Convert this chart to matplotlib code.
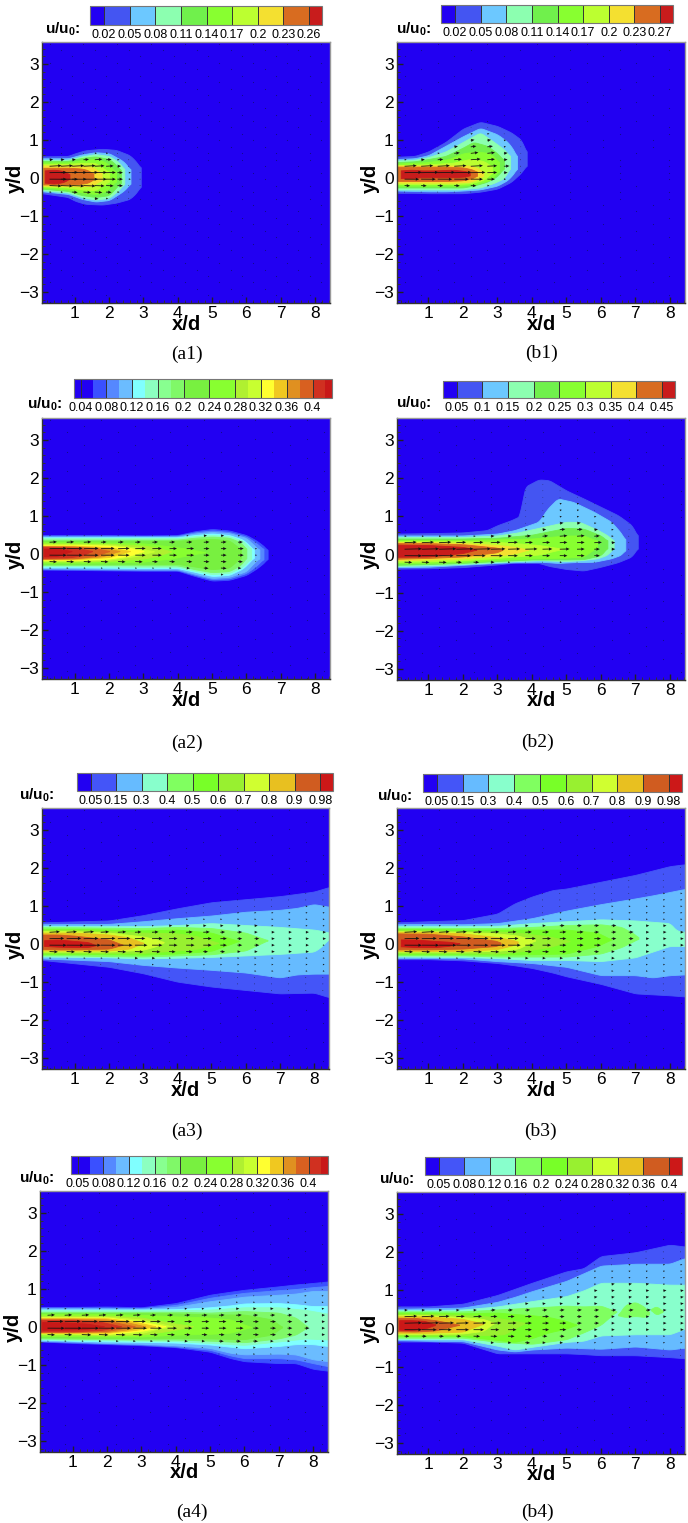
import numpy as np
import matplotlib
matplotlib.use("Agg")
import matplotlib.pyplot as plt
from matplotlib.cm import ScalarMappable
from matplotlib.colors import ListedColormap, BoundaryNorm

plt.rcParams['font.family'] = ['Liberation Sans', 'DejaVu Sans']
plt.rcParams['mathtext.fontset'] = 'custom'
plt.rcParams['mathtext.bf'] = 'Liberation Sans:bold'

W, H = 688, 1523

# colour ramps of the legend bars
COLORS_10 = ['#2200f2', '#4455f2', '#6cc8ff', '#8cffb0', '#70f04c', '#88ff30', '#bcff30', '#f4e030', '#d86c20', '#c81c1c']
COLORS_11 = ['#2200f2', '#4455f8', '#66bbff', '#88ffcc', '#80ff60', '#78ff28', '#98f030', '#d0ff30', '#e8c020', '#d05c20', '#cc1818']
COLORS_21 = ['#2200f2', '#2200f2', '#3a50ff', '#5588ff', '#6bbcff', '#80ffff', '#8cffc0', '#88ff90', '#80f868', '#78f040', '#78f040',
             '#88ff30', '#88ff30', '#b0f030', '#c8ff30', '#ffff30', '#f0c820', '#e09020', '#d86020', '#d03020', '#c81818']

# legend levels and labels
A1_LEVELS = [0.02, 0.05, 0.08, 0.11, 0.14, 0.17, 0.2, 0.23, 0.26]
A1_LABELS = ['0.02', '0.05', '0.08', '0.11', '0.14', '0.17', '0.2', '0.23', '0.26']
B1_LEVELS = [0.02, 0.05, 0.08, 0.11, 0.14, 0.17, 0.2, 0.23, 0.27]
B1_LABELS = ['0.02', '0.05', '0.08', '0.11', '0.14', '0.17', '0.2', '0.23', '0.27']
A2_LEVELS = [0.04, 0.06, 0.08, 0.1, 0.12, 0.14, 0.16, 0.18, 0.2, 0.22, 0.24, 0.26, 0.28, 0.3, 0.32, 0.34, 0.36, 0.38, 0.4, 0.42]
A2_LABELS = ['0.04', '0.08', '0.12', '0.16', '0.2', '0.24', '0.28', '0.32', '0.36', '0.4']
B2_LEVELS = [0.05, 0.1, 0.15, 0.2, 0.25, 0.3, 0.35, 0.4, 0.45]
B2_LABELS = ['0.05', '0.1', '0.15', '0.2', '0.25', '0.3', '0.35', '0.4', '0.45']
U3_LEVELS = [0.05, 0.15, 0.3, 0.4, 0.5, 0.6, 0.7, 0.8, 0.9, 0.98]
U3_LABELS = ['0.05', '0.15', '0.3', '0.4', '0.5', '0.6', '0.7', '0.8', '0.9', '0.98']
A4_LEVELS = [0.05, 0.065, 0.08, 0.1, 0.12, 0.14, 0.16, 0.18, 0.2, 0.22, 0.24, 0.26, 0.28, 0.3, 0.32, 0.34, 0.36, 0.38, 0.4, 0.42]
A4_LABELS = ['0.05', '0.08', '0.12', '0.16', '0.2', '0.24', '0.28', '0.32', '0.36', '0.4']
B4_LEVELS = [0.05, 0.08, 0.12, 0.16, 0.2, 0.24, 0.28, 0.32, 0.36, 0.4]
B4_LABELS = ['0.05', '0.08', '0.12', '0.16', '0.2', '0.24', '0.28', '0.32', '0.36', '0.4']

# contour outlines: (band, x/d, upper y/d, lower y/d)
A1_BANDS = [
    (1, [.04, .8, 1, 1.3, 1.8, 2.2, 2.6, 2.8, 2.92], [.57, .58, .65, .73, .77, .74, .6, .42, .25], [-.4, -.5, -.6, -.68, -.7, -.65, -.55, -.38, -.2]),
    (2, [.04, .8, 1.2, 1.6, 2, 2.4, 2.55, 2.62], [.52, .52, .62, .68, .65, .45, .3, .2], [-.35, -.42, -.55, -.62, -.58, -.35, -.22, -.12]),
    (3, [.04, .8, 1.2, 1.6, 2, 2.3, 2.45], [.48, .48, .57, .63, .58, .4, .2], [-.32, -.38, -.5, -.57, -.52, -.3, -.12]),
    (4, [.04, .8, 1.2, 1.6, 2, 2.2, 2.35], [.45, .45, .53, .57, .5, .35, .18], [-.28, -.34, -.45, -.5, -.45, -.25, -.1]),
    (5, [.04, .8, 1.2, 1.6, 1.9, 2.2], [.41, .41, .47, .5, .42, .15], [-.25, -.3, -.38, -.42, -.35, -.08]),
    (6, [.04, .8, 1.2, 1.6, 2.0], [.37, .37, .4, .4, .15], [-.22, -.25, -.3, -.32, -.08]),
    (7, [.04, .8, 1.2, 1.5, 1.78], [.33, .33, .33, .3, .12], [-.2, -.21, -.22, -.2, -.05]),
    (8, [.08, .8, 1.2, 1.4, 1.55], [.27, .27, .25, .2, .1], [-.17, -.17, -.15, -.12, -.02]),
    (9, [.12, .4, .7, .85], [.2, .22, .18, .08], [-.12, -.15, -.1, .0]),
]
B1_BANDS = [
    (1, [.09, .6, 1, 1.5, 2, 2.5, 3, 3.4, 3.7, 3.85], [.56, .58, .7, .95, 1.3, 1.48, 1.37, 1.2, 1.0, .65], [-.39, -.39, -.4, -.4, -.4, -.36, -.28, -.1, .15, .35]),
    (2, [.09, .6, 1, 1.5, 2, 2.5, 3, 3.3, 3.5, 3.58], [.5, .52, .6, .85, 1.1, 1.32, 1.15, .95, .7, .5], [-.33, -.34, -.35, -.35, -.33, -.3, -.2, -.05, .15, .3]),
    (3, [.09, .6, 1, 1.5, 1.9, 2.5, 2.9, 3.2, 3.38], [.46, .48, .55, .7, .9, 1.2, .95, .75, .55], [-.3, -.3, -.3, -.3, -.3, -.25, -.13, .0, .3]),
    (4, [.09, .6, 1, 1.5, 2, 2.3, 2.7, 3, 3.2], [.42, .44, .5, .58, .8, .95, .85, .65, .45], [-.25, -.25, -.25, -.25, -.25, -.2, -.1, .05, .28]),
    (5, [.09, 1, 1.6, 2, 2.4, 2.8, 3.05], [.38, .42, .5, .65, .7, .65, .4], [-.2, -.2, -.2, -.2, -.15, -.05, .2]),
    (6, [.09, 1, 1.7, 2.2, 2.6, 2.85], [.34, .36, .4, .5, .45, .3], [-.16, -.16, -.16, -.14, -.05, .15]),
    (7, [.09, 1, 1.8, 2.2, 2.45, 2.6], [.33, .33, .33, .33, .25, .15], [-.12, -.12, -.12, -.1, -.02, .08]),
    (8, [.09, .5, 1.5, 2.0, 2.3, 2.42], [.3, .3, .3, .28, .22, .15], [-.08, -.08, -.08, -.06, .0, .08]),
    (9, [.2, .5, .8, 1.2, 1.7, 2.1, 2.2], [.2, .22, .2, .2, .22, .18, .14], [.0, .0, .02, .02, .02, .04, .08]),
]
A2_BANDS = [
    (2, [.04, 1, 2, 3, 4, 4.5, 5, 5.5, 6, 6.3, 6.55, 6.62], [.5, .5, .5, .49, .5, .6, .66, .62, .5, .35, .18, .08], [-.41, -.42, -.43, -.44, -.44, -.58, -.7, -.68, -.55, -.38, -.2, -.1]),
    (3, [.04, 1, 2, 3, 4, 4.5, 5, 5.5, 6, 6.3, 6.5], [.48, .48, .48, .47, .48, .57, .62, .58, .46, .28, .12], [-.39, -.4, -.41, -.42, -.42, -.55, -.66, -.64, -.5, -.3, -.12]),
    (4, [.04, 1, 2, 3, 4, 4.5, 5, 5.5, 6, 6.2, 6.38], [.46, .46, .46, .46, .46, .54, .58, .55, .42, .25, .1], [-.37, -.38, -.39, -.4, -.4, -.52, -.63, -.6, -.45, -.25, -.1]),
    (5, [.04, 1, 2, 3, 4, 4.5, 5, 5.5, 5.9, 6.1, 6.22], [.44, .44, .44, .44, .44, .5, .54, .5, .38, .22, .1], [-.35, -.35, -.36, -.37, -.37, -.47, -.58, -.55, -.38, -.2, -.08]),
    (6, [.04, 1, 2, 3, 4, 4.5, 5, 5.5, 5.9, 6.15], [.42, .42, .42, .42, .42, .47, .5, .47, .35, .12], [-.32, -.32, -.33, -.34, -.34, -.44, -.53, -.5, -.33, -.1]),
    (8, [.04, 1, 2, 3, 4, 4.5, 5, 5.5, 5.85, 6.0], [.38, .38, .38, .38, .38, .43, .46, .43, .3, .12], [-.29, -.29, -.29, -.3, -.3, -.4, -.48, -.45, -.28, -.08]),
    (9, [.04, 1, 2, 3, 4, 4.5, 5, 5.5, 5.85], [.35, .35, .35, .35, .35, .38, .4, .36, .12], [-.26, -.26, -.26, -.26, -.26, -.33, -.4, -.36, -.08]),
    (11, [.04, 1, 2, 3, 3.8, 4.2, 4.8], [.32, .32, .3, .28, .2, .15, .05], [-.23, -.23, -.22, -.2, -.12, -.05, .05]),
    (13, [.04, 1, 2, 3, 3.4, 3.8], [.28, .28, .27, .22, .17, .07], [-.2, -.2, -.18, -.12, -.05, .07]),
    (14, [.04, 1, 2, 2.8, 3.3], [.26, .26, .25, .17, .07], [-.18, -.18, -.15, -.05, .07]),
    (15, [.04, 1, 2, 2.6, 3.0], [.24, .24, .22, .16, .08], [-.16, -.16, -.12, -.04, .08]),
    (16, [.04, 1, 2, 2.6], [.22, .22, .18, .08], [-.14, -.14, -.08, .08]),
    (17, [.04, 1, 1.8, 2.3], [.21, .2, .16, .08], [-.13, -.12, -.06, .08]),
    (18, [.04, 1, 1.6, 2.0], [.2, .19, .15, .08], [-.12, -.11, -.05, .08]),
    (19, [.04, .8, 1.2, 1.5], [.18, .17, .13, .08], [-.1, -.09, -.04, .08]),
    (20, [.1, .5, .9], [.14, .14, .08], [-.06, -.05, .08]),
]
B2_BANDS = [
    (1, [.09, 1, 2, 2.7, 3, 3.4, 3.68, 3.72, 3.8, 4.2, 4.5, 5, 5.5, 6, 6.5, 6.9, 7.08], [.55, .56, .58, .64, .77, .9, 1.02, 1.5, 1.78, 1.97, 1.95, 1.68, 1.47, 1.25, 1.03, .77, .45],
     [-.37, -.36, -.33, -.28, -.26, -.22, -.22, -.22, -.22, -.22, -.3, -.38, -.42, -.32, -.2, -.05, .2]),
    (2, [.09, 1, 2, 3, 3.5, 4.2, 4.45, 4.75, 5.2, 5.8, 6.3, 6.6, 6.72], [.5, .5, .5, .55, .64, .86, 1.2, 1.47, 1.38, 1.12, .86, .55, .35], [-.33, -.32, -.27, -.22, -.2, -.19, -.2, -.22, -.2, -.19, -.1, .0, .15]),
    (3, [.09, 1, 2, 3, 3.6, 4.2, 5, 5.4, 5.9, 6.2, 6.38], [.46, .46, .46, .5, .58, .7, .86, .85, .65, .5, .35], [-.3, -.28, -.25, -.2, -.17, -.15, -.17, -.15, -.1, .0, .2]),
    (4, [.09, 1, 2, 3, 4, 5, 5.5, 6, 6.2], [.42, .42, .42, .44, .52, .7, .68, .5, .35], [-.27, -.25, -.22, -.17, -.13, -.13, -.12, -.02, .2]),
    (5, [.09, 1, 2, 3, 4, 5, 5.5, 5.9], [.38, .38, .38, .4, .42, .5, .5, .36], [-.23, -.22, -.19, -.14, -.1, -.08, -.05, .2]),
    (6, [.09, 1, 2, 3, 3.5, 4.2, 4.9], [.35, .35, .35, .33, .3, .25, .15], [-.19, -.18, -.15, -.09, -.05, .0, .15]),
    (7, [.09, 1, 2, 3, 3.5, 3.9], [.33, .33, .3, .25, .2, .13], [-.15, -.13, -.1, -.03, .03, .13]),
    (8, [.09, 1, 2, 3, 3.15], [.3, .3, .27, .18, .13], [-.11, -.09, -.05, .06, .13]),
    (9, [.09, 1, 2, 2.4], [.26, .25, .2, .13], [-.06, -.05, .04, .13]),
]
A3_BANDS = [
    (1, [.04, 2, 3, 4, 5, 6, 7, 8, 8.44], [.57, .62, .76, .94, 1.1, 1.18, 1.26, 1.38, 1.5], [-.42, -.6, -.77, -.99, -1.12, -1.21, -1.3, -1.28, -1.4]),
    (2, [.04, 2, 3, 4, 5, 6, 7, 7.5, 8, 8.44], [.52, .53, .6, .68, .75, .85, .9, .95, 1.05, .98], [-.38, -.45, -.55, -.62, -.68, -.75, -.88, -.8, -.78, -.78]),
    (3, [.04, 2, 3, 4, 5, 6, 7, 8, 8.2, 8.44], [.47, .47, .47, .5, .55, .5, .45, .38, .35, .3], [-.33, -.35, -.38, -.36, -.34, -.3, -.26, -.2, -.08, .14]),
    (4, [.04, 1, 2, 3, 4, 5, 6, 6.65], [.44, .44, .43, .42, .45, .42, .3, .1], [-.3, -.3, -.32, -.33, -.3, -.27, -.17, .1]),
    (5, [.04, 1, 2, 3, 4, 5, 5.8], [.4, .4, .38, .36, .38, .3, .08], [-.26, -.26, -.27, -.28, -.25, -.18, .08]),
    (6, [.04, 1, 2, 3, 4, 4.6, 5.2], [.37, .37, .34, .3, .28, .2, .03], [-.23, -.23, -.23, -.23, -.17, -.12, .03]),
    (7, [.04, 1, 2, 3, 3.4, 3.6], [.34, .34, .3, .2, .12, .05], [-.2, -.2, -.2, -.15, -.05, .05]),
    (8, [.04, 1, 2, 2.6, 3], [.3, .3, .25, .17, .03], [-.17, -.17, -.17, -.12, .03]),
    (9, [.04, .5, 1, 2, 2.4], [.25, .25, .22, .12, -.02], [-.13, -.14, -.14, -.12, -.02]),
    (10, [.1, .5, 1, 1.4, 1.6], [.1, .12, .08, .05, -.03], [-.05, -.07, -.08, -.08, -.03]),
]
B3_BANDS = [
    (1, [.09, 1, 2, 3, 3.5, 4, 4.6, 5, 6, 7, 8, 8.44], [.57, .6, .63, .8, 1.07, 1.25, 1.42, 1.46, 1.64, 1.82, 2.05, 2.1], [-.4, -.4, -.43, -.5, -.56, -.63, -.75, -.85, -1.05, -1.3, -1.35, -1.38]),
    (2, [.09, 1, 2, 3, 4, 5, 6, 7, 7.5, 8, 8.44], [.52, .53, .52, .55, .68, .88, 1.05, 1.2, 1.28, 1.37, 1.45], [-.37, -.37, -.38, -.45, -.5, -.6, -.82, -.82, -.88, -.82, -.8]),
    (3, [.09, 2, 3, 4, 5, 6, 7, 8, 8.2, 8.44], [.47, .47, .48, .55, .6, .65, .62, .55, .35, .32], [-.33, -.34, -.37, -.42, -.42, -.45, -.35, -.05, -.05, -.05]),
    (4, [.09, 1, 2, 3, 4, 5, 6, 6.6, 7, 7.1], [.43, .43, .42, .42, .45, .5, .52, .45, .25, .15], [-.3, -.3, -.3, -.33, -.33, -.33, -.25, -.08, .1, .15]),
    (5, [.09, 1, 2, 3, 4, 5, 5.9, 6.3], [.4, .4, .38, .38, .38, .38, .3, .12], [-.27, -.27, -.27, -.28, -.27, -.25, -.05, .12]),
    (6, [.09, 1, 2, 3, 3.6, 4.5, 5.1], [.37, .37, .34, .33, .3, .2, .08], [-.24, -.24, -.24, -.25, -.2, -.08, .08]),
    (7, [.09, 1, 2, 3, 3.6, 4.1], [.34, .34, .32, .28, .22, .1], [-.2, -.2, -.2, -.18, -.12, .1]),
    (8, [.09, 1, 2, 3, 3.5, 3.6], [.32, .32, .28, .18, .1, .05], [-.18, -.18, -.18, -.13, -.02, .05]),
    (9, [.09, 1, 2, 3, 3.1], [.28, .27, .2, .08, .02], [-.14, -.14, -.12, -.05, .02]),
    (10, [.2, .6, 1.2, 1.6, 1.9], [.12, .12, .08, .06, .02], [-.06, -.08, -.08, -.05, .02]),
]
A4_BANDS = [
    (2, [.04, 1, 2, 3, 4, 5, 5.6, 6, 7, 7.5, 8, 8.44], [.53, .53, .54, .52, .63, .85, .93, .98, 1.07, 1.12, 1.16, 1.2], [-.38, -.42, -.45, -.48, -.53, -.65, -.82, -.9, -.95, -.95, -1.1, -1.15]),
    (3, [.04, 1, 2, 3, 4, 5, 5.6, 6, 7, 7.5, 8, 8.44], [.51, .51, .51, .5, .58, .77, .85, .9, .97, 1.0, 1.05, 1.08], [-.37, -.4, -.43, -.46, -.51, -.6, -.75, -.82, -.82, -.85, -.95, -1.03]),
    (4, [.04, 1, 2, 3, 4, 5, 5.6, 6, 7, 7.5, 8, 8.44], [.49, .49, .49, .48, .53, .68, .75, .8, .85, .88, .95, .95], [-.36, -.38, -.42, -.44, -.48, -.55, -.68, -.72, -.7, -.72, -.85, -.9]),
    (5, [.04, 1, 2, 3, 4, 5, 5.6, 6, 7, 7.5, 8, 8.44], [.46, .46, .46, .46, .47, .52, .57, .62, .63, .6, .55, .55], [-.33, -.36, -.38, -.39, -.41, -.46, -.52, -.56, -.5, -.45, -.45, -.5]),
    (6, [.04, 1, 2, 3, 4, 5, 6, 7, 7.8, 8.44], [.44, .44, .44, .44, .44, .46, .52, .52, .45, .35], [-.32, -.34, -.35, -.36, -.37, -.42, -.47, -.38, -.3, -.33]),
    (8, [.04, 1, 2, 3, 4, 5, 6, 7, 7.5, 7.85], [.4, .4, .4, .4, .4, .38, .42, .38, .25, .0], [-.3, -.31, -.32, -.33, -.33, -.36, -.4, -.3, -.2, .0]),
    (9, [.04, 1, 2, 3, 4, 5, 6, 6.8, 7.1], [.37, .37, .37, .37, .36, .33, .33, .2, .0], [-.27, -.28, -.29, -.3, -.29, -.3, -.32, -.2, .0]),
    (11, [.04, 1, 2, 3, 4, 5, 5.6, 6.2], [.34, .34, .34, .32, .28, .25, .2, .0], [-.24, -.24, -.25, -.25, -.2, -.18, -.15, .0]),
    (13, [.04, 1, 2, 3, 3.8, 4.5], [.3, .3, .3, .25, .12, .02], [-.2, -.2, -.22, -.2, -.1, .02]),
    (14, [.04, 1, 2, 3, 3.4, 3.9], [.27, .27, .27, .2, .12, .02], [-.18, -.18, -.2, -.16, -.06, .02]),
    (15, [.04, 1, 2, 3, 3.7], [.25, .25, .25, .14, .02], [-.16, -.16, -.18, -.1, .02]),
    (16, [.04, 1, 2, 2.8, 3.4], [.24, .24, .23, .14, .02], [-.15, -.15, -.15, -.08, .02]),
    (17, [.04, 1, 2, 2.6, 3.1], [.22, .22, .2, .12, .02], [-.14, -.14, -.13, -.06, .02]),
    (18, [.04, 1, 2, 2.8], [.2, .2, .16, .02], [-.13, -.13, -.1, .02]),
    (19, [.04, 1, 1.8, 2.4], [.18, .18, .14, .02], [-.11, -.11, -.08, .02]),
    (20, [.1, .7, 1.4, 1.9], [.13, .12, .09, .02], [-.07, -.07, -.05, .02]),
]
B4_BANDS = [
    (1, [.09, 1, 2, 3, 4, 5, 5.5, 6, 7, 8, 8.44], [.58, .58, .65, .88, 1.2, 1.5, 1.58, 1.9, 2.0, 2.2, 2.15], [-.34, -.34, -.37, -.65, -.65, -.65, -.67, -.7, -.7, -.75, -.78]),
    (2, [.09, 1, 2, 3, 3.5, 4, 5, 6, 7, 8, 8.44], [.52, .53, .55, .7, .83, .98, 1.25, 1.65, 1.7, 1.7, 1.85], [-.3, -.32, -.33, -.55, -.6, -.55, -.5, -.53, -.47, -.55, -.5]),
    (3, [.09, 1, 2, 3, 3.5, 4, 5, 5.5, 6, 7, 8, 8.44], [.48, .48, .5, .58, .65, .72, .85, 1.0, 1.2, 1.2, 1.15, 1.15], [-.27, -.28, -.28, -.45, -.55, -.48, -.35, -.32, -.18, -.15, -.15, .0]),
    (4, [.09, 1, 2, 3, 4, 5, 5.5, 6, 6.45], [.45, .45, .45, .5, .55, .6, .58, .6, .45], [-.24, -.24, -.24, -.35, -.4, -.28, -.1, .1, .45]),
    (4, [6.5, 6.7, 7, 7.3, 7.4], [.35, .62, .7, .55, .4], [.35, .3, .33, .3, .4]),
    (4, [7.45, 7.6, 7.8], [.5, .6, .45], [.5, .35, .45]),
    (5, [.09, 1, 2, 3, 3.5, 4, 4.5, 5, 5.3], [.42, .42, .4, .42, .38, .35, .3, .2, .1], [-.2, -.2, -.2, -.3, -.35, -.25, -.1, .0, .1]),
    (6, [.09, 1, 2, 2.7, 3.2, 3.8], [.38, .38, .36, .32, .25, .15], [-.17, -.17, -.17, -.17, -.15, .15]),
    (7, [.09, 1, 2, 2.6, 2.9], [.35, .35, .3, .25, .15], [-.14, -.14, -.13, -.06, .15]),
    (8, [.09, 1, 2, 2.6], [.32, .32, .25, .13], [-.11, -.11, -.08, .13]),
    (9, [.09, .6, 1.2, 1.9], [.28, .28, .22, .1], [-.07, -.08, -.05, .1]),
    (10, [.15, .5, .9, 1.2], [.22, .22, .2, .1], [-.03, -.04, .0, .1]),
]

# panel layout in pixels: axes box, legend bar, legend title, caption
PANELS = [
    dict(name='(a1)', box=(42, 330, 42, 303), x0=.04, bar=(90, 322, 6, 25), title=(63, 29), cap=(187, 354), bands=A1_BANDS, colors=COLORS_10, levels=A1_LEVELS, labels=A1_LABELS, frac=(.068, .063), dx=.33),
    dict(name='(b1)', box=(397, 685, 42, 303), x0=.09, bar=(441, 673, 5, 23), title=(414, 29), cap=(542, 353), bands=B1_BANDS, colors=COLORS_10, levels=B1_LEVELS, labels=B1_LABELS, frac=(.068, .063), dx=.48),
    dict(name='(a2)', box=(42, 330, 418, 679), x0=.04, bar=(74, 332, 379, 398), title=(45, 404), cap=(187, 743), bands=A2_BANDS, colors=COLORS_21, levels=A2_LEVELS, labels=A2_LABELS, frac=(.027, .027), dx=.5),
    dict(name='(b2)', box=(397, 685, 418, 680), x0=.09, bar=(443, 675, 381, 398), title=(414, 403), cap=(537, 742), bands=B2_BANDS, colors=COLORS_10, levels=B2_LEVELS, labels=B2_LABELS, frac=(.067, .063), dx=.5),
    dict(name='(a3)', box=(42, 329, 808, 1069), x0=.04, bar=(77, 333, 773, 791), title=(37, 795), cap=(187, 1131), bands=A3_BANDS, colors=COLORS_11, levels=U3_LEVELS, labels=U3_LABELS, frac=(.059, .056), dx=.5),
    dict(name='(b3)', box=(397, 685, 808, 1069), x0=.09, bar=(423, 682, 774, 792), title=(395, 796), cap=(540, 1131), bands=B3_BANDS, colors=COLORS_11, levels=U3_LEVELS, labels=U3_LABELS, frac=(.059, .056), dx=.5),
    dict(name='(a4)', box=(40, 328, 1191, 1452), x0=.04, bar=(71, 328, 1156, 1174), title=(37, 1178), cap=(192, 1512), bands=A4_BANDS, colors=COLORS_21, levels=A4_LEVELS, labels=A4_LABELS, frac=(.027, .027), dx=.5),
    dict(name='(b4)', box=(397, 685, 1192, 1454), x0=.09, bar=(425, 682, 1157, 1175), title=(397, 1179), cap=(537, 1512), bands=B4_BANDS, colors=COLORS_11, levels=B4_LEVELS, labels=B4_LABELS, frac=(.059, .056), dx=.5),
]


def band_at(bands, px, py):
    # highest contour band that covers each grid point
    idx = np.zeros_like(px, dtype=int)
    for band, xs, up, lo in bands:
        u = np.interp(px, xs, up)
        l = np.interp(px, xs, lo)
        inside = (px >= xs[0]) & (px <= xs[-1]) & (py >= l) & (py <= u)
        idx[inside] = np.maximum(idx[inside], band)
    return idx


def rounded(xs, ys, fine):
    # take the corners off an outline
    vals = np.interp(fine, xs, ys)
    pad = np.pad(vals, 4, mode='edge')
    return np.convolve(pad, np.ones(9) / 9, mode='valid')


fig = plt.figure(figsize=(W / 100, H / 100), dpi=100)

for p in PANELS:
    left, right, top, bottom = p['box']
    ax = fig.add_axes([left / W, 1 - bottom / H, (right - left) / W, (bottom - top) / H])
    ax.set_facecolor(p['colors'][0])
    for band, xs, up, lo in p['bands']:
        fine = np.arange(xs[0], xs[-1] + 0.01, 0.02)
        ax.fill_between(fine, rounded(xs, lo, fine), rounded(xs, up, fine), color=p['colors'][band], lw=0.6, zorder=2 + band / 100)

    # velocity vectors on the measurement grid
    gx, gy = np.meshgrid(np.arange(p['x0'] + 0.22, 8.44, p['dx']), np.arange(-3.26, 3.55, 0.17))
    idx = band_at(p['bands'], gx, gy)
    top_band = len(p['colors']) - 1
    jet = idx > 0
    speed = 0.5 * (idx[jet] / top_band) ** 1.4
    ax.quiver(gx[jet], gy[jet], speed, speed * gy[jet] * 0.15, units='dots', angles='xy', scale_units='xy', scale=1,
              width=0.8, headwidth=4, headlength=4.5, headaxislength=4, minlength=1.0, color='#111111', zorder=5)
    ax.plot(gx[~jet][::3], gy[~jet][::3], ls='', marker='.', ms=1.6, mew=0, color='#101060', alpha=0.8, zorder=4)

    ax.set_xlim(p['x0'], 8.44)
    ax.set_ylim(-3.29, 3.58)
    ax.set_xticks(range(1, 9))
    ax.set_yticks(range(-3, 4))
    ax.set_xticks(np.arange(0.2, 8.44, 0.2), minor=True)
    ax.set_yticks(np.arange(-3.2, 3.58, 0.2), minor=True)
    ax.tick_params(which='major', direction='in', length=4, width=1, color='#222222', labelsize=12.5, pad=2.5, top=False, right=False)
    ax.tick_params(which='minor', direction='in', length=2, width=0.7, color='#333333', top=False, right=False)
    for side in ('left', 'bottom'):
        ax.spines[side].set_color('#333333')
        ax.spines[side].set_linewidth(1.0)
    for side in ('top', 'right'):
        ax.spines[side].set_color('#999999')
        ax.spines[side].set_linewidth(1.0)

    y0_px = top + (bottom - top) * 3.58 / 6.87
    fig.text((left + right) / 2 / W, 1 - (bottom + 21) / H, 'x/d', fontsize=14.5, fontweight='bold', ha='center', va='center')
    fig.text((left - 27) / W, 1 - y0_px / H, 'y/d', fontsize=14.5, fontweight='bold', rotation=90, ha='center', va='center')
    fig.text(p['cap'][0] / W, 1 - p['cap'][1] / H, p['name'], fontsize=14, family=['Liberation Serif'], ha='center', va='center')
    fig.text(p['title'][0] / W, 1 - p['title'][1] / H, r'$\mathbf{u/u_0}$:', fontsize=11, fontweight='bold', ha='center', va='center')

    # legend bar
    bl, br, bt, bb = p['bar']
    cax = fig.add_axes([bl / W, 1 - bb / H, (br - bl) / W, (bb - bt) / H])
    cmap = ListedColormap(p['colors'])
    norm = BoundaryNorm(p['levels'], ncolors=len(p['colors']), extend='both')
    cb = fig.colorbar(ScalarMappable(norm=norm, cmap=cmap), cax=cax, orientation='horizontal', spacing='uniform',
                      extend='both', extendrect=True, extendfrac=p['frac'])
    step = 2 if len(p['levels']) > 12 else 1
    cb.set_ticks(p['levels'][::step][:len(p['labels'])], labels=p['labels'])
    cb.ax.minorticks_off()
    cb.ax.tick_params(axis='x', direction='in', length=(bb - bt) * 0.72, width=0.7, color='#333333', labelsize=9, pad=3)
    cb.outline.set_edgecolor('#777777')
    cb.outline.set_linewidth(0.8)

fig.savefig('out.png', dpi=100)
